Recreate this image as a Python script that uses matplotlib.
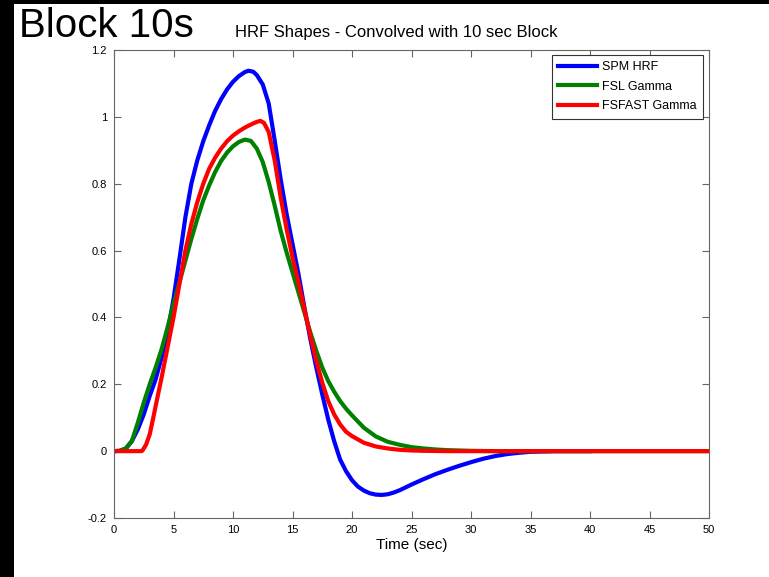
import matplotlib
matplotlib.use("Agg")
import matplotlib.pyplot as plt
from matplotlib.patches import Rectangle

plt.rcParams['font.family'] = ['Liberation Sans', 'DejaVu Sans']

# --- data ---
spm_t = [0, 0.5, 1, 1.5, 2, 2.5, 3, 3.5, 4, 4.5, 5, 5.5, 6, 6.5, 7, 7.5, 8, 8.5, 9,
         9.5, 10, 10.5, 11, 11.3, 11.7, 12, 12.5, 13, 13.5, 14, 14.5, 15, 15.5, 16,
         16.5, 17, 17.5, 18, 18.5, 19, 19.5, 20, 20.5, 21, 21.5, 22, 22.5, 23, 23.5,
         24, 25, 26, 27, 28, 29, 30, 31, 32, 33, 34, 35, 36, 37, 40]
spm_v = [0, 0.001, 0.008, 0.03, 0.065, 0.11, 0.165, 0.215, 0.28, 0.355, 0.455,
         0.575, 0.70, 0.80, 0.87, 0.927, 0.975, 1.018, 1.053, 1.082, 1.105,
         1.122, 1.134, 1.138, 1.135, 1.125, 1.097, 1.04, 0.93, 0.815, 0.71, 0.62,
         0.53, 0.43, 0.335, 0.25, 0.17, 0.095, 0.03, -0.025, -0.06, -0.087, -0.106,
         -0.118, -0.126, -0.13, -0.131, -0.129, -0.124, -0.117, -0.10, -0.084,
         -0.069, -0.056, -0.044, -0.033, -0.023, -0.015, -0.009, -0.005, -0.002,
         -0.001, 0, 0]

fsl_t = [0, 0.5, 1, 1.5, 2, 2.5, 3, 3.5, 4, 4.5, 5, 5.5, 6, 6.5, 7, 7.5, 8, 8.5, 9,
         9.5, 10, 10.5, 11, 11.5, 12, 12.5, 13, 13.5, 14, 14.5, 15, 15.5, 16, 16.5,
         17, 17.5, 18, 18.5, 19, 19.5, 20, 21, 22, 23, 24, 25, 26, 27, 28, 30, 32, 50]
fsl_v = [0, 0.001, 0.008, 0.03, 0.085, 0.145, 0.20, 0.25, 0.305, 0.37, 0.44, 0.505,
         0.57, 0.635, 0.695, 0.75, 0.795, 0.835, 0.868, 0.893, 0.912, 0.925, 0.932,
         0.928, 0.905, 0.865, 0.805, 0.735, 0.66, 0.595, 0.535, 0.475, 0.415, 0.355,
         0.30, 0.25, 0.21, 0.178, 0.15, 0.127, 0.107, 0.07, 0.044, 0.028, 0.019,
         0.012, 0.008, 0.005, 0.003, 0.001, 0, 0]

fsfast_t = [0, 2.3, 2.4, 2.7, 3, 3.3, 3.5, 4, 4.5, 5, 5.5, 6, 6.5, 7, 7.5, 8, 8.5,
            9, 9.5, 10, 10.5, 11, 11.5, 12, 12.3, 12.6, 13, 13.5, 14, 14.5, 15,
            15.5, 16, 16.5, 17, 17.5, 18, 18.5, 19, 19.5, 20, 21, 22, 23, 24, 25,
            26, 28, 50]
fsfast_v = [0, 0, 0.002, 0.02, 0.05, 0.10, 0.135, 0.22, 0.31, 0.40, 0.50, 0.60,
            0.68, 0.745, 0.80, 0.845, 0.878, 0.905, 0.927, 0.944, 0.957, 0.968,
            0.977, 0.985, 0.988, 0.982, 0.955, 0.87, 0.76, 0.665, 0.58, 0.505,
            0.425, 0.345, 0.27, 0.205, 0.15, 0.11, 0.08, 0.058, 0.045, 0.025, 0.014,
            0.008, 0.004, 0.002, 0.001, 0, 0]

labels = ['SPM HRF', 'FSL Gamma', 'FSFAST Gamma']
xticks = [0, 5, 10, 15, 20, 25, 30, 35, 40, 45, 50]
yticks = [-0.2, 0, 0.2, 0.4, 0.6, 0.8, 1, 1.2]
ytick_labels = ['-0.2', '0', '0.2', '0.4', '0.6', '0.8', '1', '1.2']

W, H = 769, 577
fig = plt.figure(figsize=(W / 100, H / 100), dpi=100)
fig.patch.set_facecolor('white')
# black bands on left and top edges
fig.patches.append(Rectangle((0, 0), 14 / W, 1, transform=fig.transFigure,
                             facecolor='black', edgecolor='none', zorder=0))
fig.patches.append(Rectangle((0, 1 - 4 / H), 1, 4 / H, transform=fig.transFigure,
                             facecolor='black', edgecolor='none', zorder=0))

ax = fig.add_axes([114 / W, 1 - 518 / H, (709 - 114) / W, (518 - 50) / H])
ax.plot(spm_t, spm_v, color=(0, 0, 1), lw=3, label=labels[0])
ax.plot(fsl_t, fsl_v, color=(0, 0.5, 0), lw=3, label=labels[1])
ax.plot(fsfast_t, fsfast_v, color=(1, 0, 0), lw=3, label=labels[2])

ax.set_xlim(0, 50)
ax.set_ylim(-0.2, 1.2)
ax.set_xticks(xticks)
ax.set_xticklabels([str(x) for x in xticks])
ax.set_yticks(yticks)
ax.set_yticklabels(ytick_labels)
ax.tick_params(direction='in', length=5, width=0.8, color='#666666',
               top=True, right=True, labelsize=8, pad=5)
for s in ax.spines.values():
    s.set_color('#666666')
    s.set_linewidth(0.8)

ax.set_xlabel('Time (sec)', fontsize=11, labelpad=2)

fig.text(396 / W, 1 - 32 / H, 'HRF Shapes - Convolved with 10 sec Block',
         ha='center', va='center', fontsize=12)
fig.text(19 / W, 1 - 37 / H, 'Block 10s', ha='left', va='baseline', fontsize=29)

leg = ax.legend(loc='upper right', bbox_to_anchor=(703 / W, 1 - 55 / H),
                bbox_transform=fig.transFigure, fontsize=9, frameon=True,
                fancybox=False, framealpha=1, edgecolor='#333333',
                handlelength=3.1, labelspacing=0.6, borderpad=0.5,
                handletextpad=0.4, borderaxespad=0)
leg.get_frame().set_linewidth(0.8)

fig.savefig('out.png', dpi=100, facecolor='white')
